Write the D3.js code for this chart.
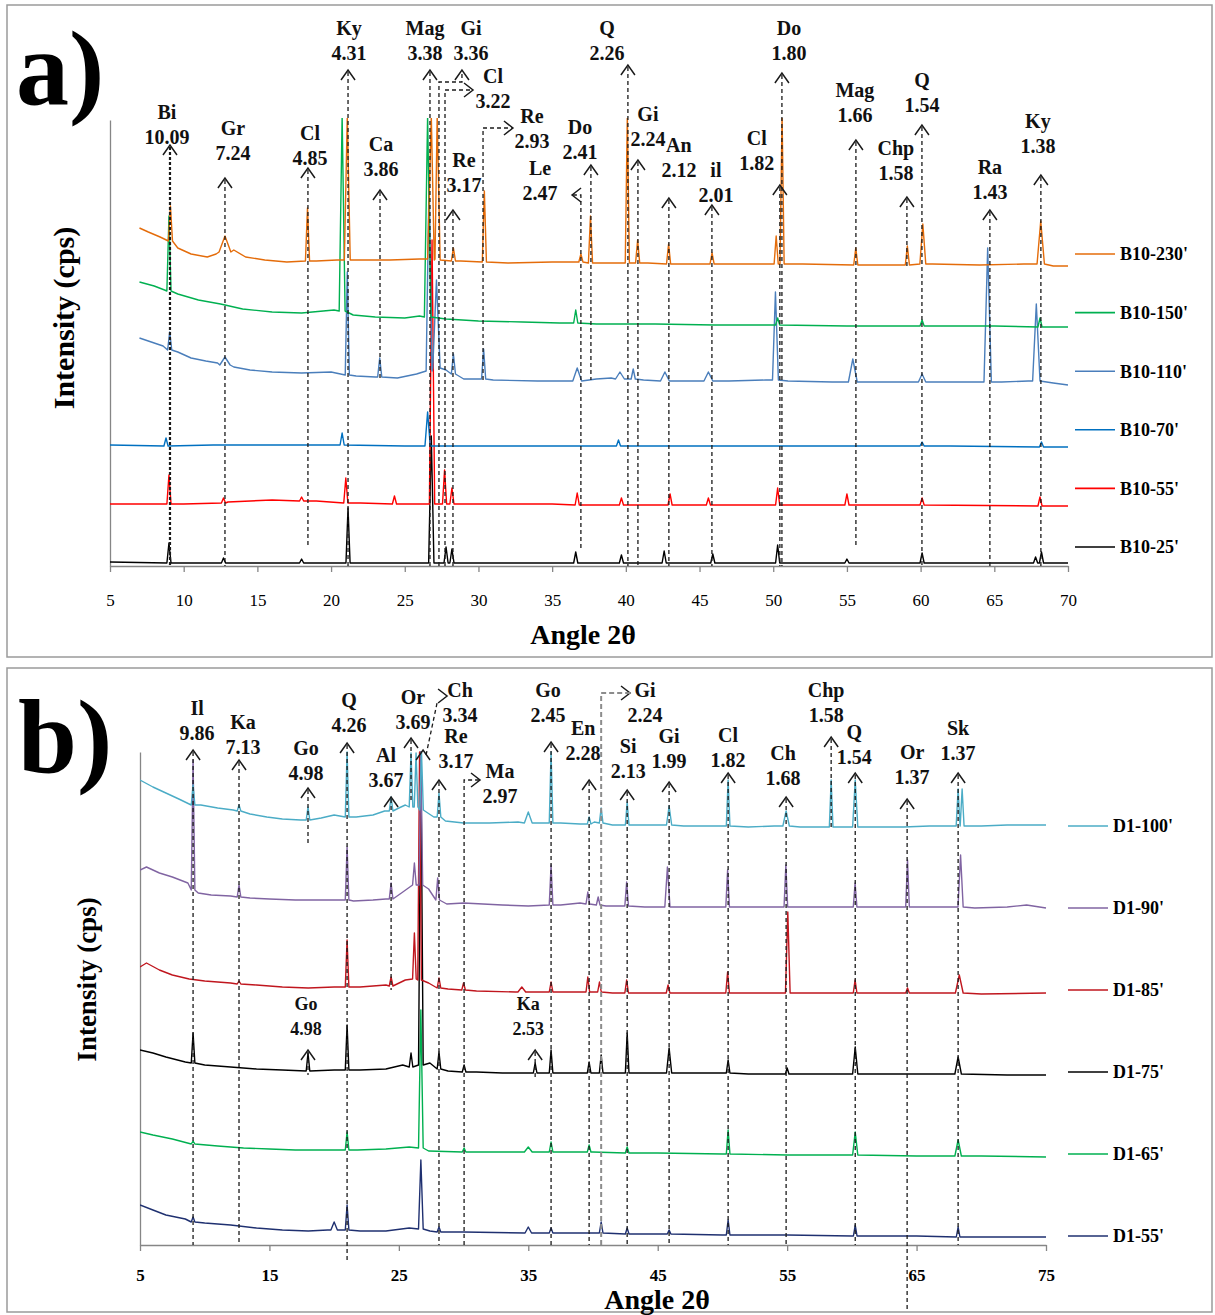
<!DOCTYPE html>
<html>
<head>
<meta charset="utf-8">
<script src="https://d3js.org/d3.v7.min.js"></script>
<style>
  body { margin: 0; background: #fff; }
  text { font-family: "Liberation Serif", "Times New Roman", serif; }
</style>
</head>
<body>
<svg id="chart" width="1215" height="1315"></svg>
<script>
(function() {

    // ---------- data ----------
    var seriesA = ["B10-230'", "B10-150'", "B10-110'", "B10-70'", "B10-55'", "B10-25'"];
    var seriesB = ["D1-100'", "D1-90'", "D1-85'", "D1-75'", "D1-65'", "D1-55'"];
    var ticksA = [5, 10, 15, 20, 25, 30, 35, 40, 45, 50, 55, 60, 65, 70];
    var ticksB = [5, 15, 25, 35, 45, 55, 65, 75];

    // background knots [2theta, intensity] and peaks [2theta, top, foot, halfwidth?]
    var b230Base = [[7.0,338],[7.6,334],[8.4,329],[9.6,318],[10.5,312],[11.6,309],[12.2,312],[13.4,316],[14.2,309],[15.5,306],[17,304],[19,305],[20.4,306],[22,306],[24,306],[26,307],[28.8,305],[32,303],[35,304],[38.5,303],[41.5,303],[44,302],[48,302],[52,302],[56,301],[60.8,302],[64,301],[67,302],[69,300],[70,300]];
    var b230Peaks = [[9.1,360,325],[12.8,330,314,0.4],[18.4,358,305],[21.1,450,306,0.2],[26.8,450,307,0.25],[27.2,450,306,0.2],[28.3,318,305],[30.4,375,304],[36.95,312,304],[37.6,350,303],[40.1,450,303],[40.8,326,303],[42.9,322,302],[45.85,313,302],[50.2,330,302],[50.6,450,302],[55.6,318,301],[59.1,320,301],[60.15,342,302,0.2],[68.15,345,302,0.25]];

    var b150Base = [[7.0,284],[8.0,280],[8.7,276],[9.6,272],[11,266],[12.5,262],[14,257],[16,254],[18,253],[20.2,256],[21.5,251],[23,249],[25,248],[26.0,250],[27.8,247],[30,245],[33,244],[35.5,243],[38,242],[42,242],[46,241],[50,241],[55,240],[60,240],[65,240],[70,239]];
    var b150Peaks = [[9.0,350,275],[20.75,450,255,0.2],[26.55,450,249,0.22],[36.6,256,243],[50.3,248,241],[60.1,246,240],[68.1,248,239]];

    var b110Base = [[7.0,228],[7.8,224],[8.6,220],[9.6,214],[10.5,208],[11.5,205],[12.3,203],[13.4,199],[14.5,196],[16,194],[18,193],[20,194],[21.7,190],[23,189],[24.5,188],[25.8,192],[27.8,196],[29,187],[31,186],[34,185],[36,185],[38,187],[39,188],[41.2,186],[44,185],[47,185],[49.5,186],[51,185],[54,184],[56.5,184],[60,184],[63.8,184],[65.5,184],[67.3,185],[69,183],[70,181]];
    var b110Peaks = [[9.05,234,216],[12.8,209,201,0.35],[21.1,294,191],[23.3,208,189],[26.65,388,195,0.2],[27.15,286,198,0.25],[28.3,212,192],[30.35,217,187],[36.7,198,185,0.3],[39.6,194,187,0.3],[40.5,197,187],[42.65,194,185,0.3],[45.6,194,185,0.3],[50.15,274,186,0.2],[55.4,207,184,0.3],[60.1,192,184,0.25],[64.55,318,184,0.25],[67.85,262,185,0.25]];

    var b70Base = [[5.0,121],[12,121],[18,121],[25,120],[32,120],[40,120],[48,120],[55,120],[62,120],[70,119]];
    var b70Peaks = [[8.8,128,120],[20.75,133,121],[26.55,154,120,0.18],[39.5,126,120],[60.1,124,120],[68.2,124,119]];

    var b55Base = [[5.0,62],[10,62],[13,64],[16,66],[19,65],[22,63],[25,62],[30,62],[35,62],[40,61],[50,61],[60,61],[70,60]];
    var b55Peaks = [[9.0,91,62],[12.7,68,63],[18.0,69,65],[21.0,88,63],[24.3,70,62],[26.85,326,62,0.18],[27.7,96,62],[28.2,78,62],[36.7,73,61],[39.7,68,61],[43.0,72,61],[45.6,68,61],[50.3,78,61],[55.0,72,61],[60.1,68,61],[68.1,69,60]];

    var b25Base = [[5.0,4],[12,3],[20,3],[30,3],[40,3],[50,3],[60,3],[70,3]];
    var b25Peaks = [[9.0,23,3],[12.7,8,3],[18.0,7,3],[21.15,58,3],[26.8,130,3,0.18],[27.8,19,3],[28.2,17,3],[36.6,14,3],[39.7,11,3],[42.6,15,3],[45.9,12,3],[50.3,21,3],[55.0,7,3],[60.1,13,3],[67.8,9,3],[68.2,14,3]];

    var d100Base = [[5.0,465],[6.0,458],[7.0,452],[8.0,446],[9.7,440],[11,437],[12.2,435],[13.5,431],[14.8,428],[16,426],[17.4,425],[19,427],[20,430],[21.7,428],[23,430],[23.9,434],[25.0,437],[25.5,440],[27.7,428],[28.6,424],[30,422],[32,422],[34.2,423],[36,422],[37.5,422],[39,421],[40.1,423],[41.5,420],[44,420],[47,419],[49,419],[52,418],[54,419],[56,418],[58,418],[62,418],[64,418],[66,419],[70,419],[72,420],[75,420]];
    var d100Peaks = [[9.1,460,440],[12.65,440,434],[17.98,438,425],[21.0,493,428],[24.4,448,434],[25.94,492,438],[26.33,492,438],[26.75,493,435],[28.1,452,428],[35.0,433,422,0.3],[36.76,493,422],[39.7,428,421],[40.63,437,422],[42.64,443,420],[45.88,439,420,0.2],[50.44,465,419],[54.92,434,419,0.25],[58.4,465,418],[60.26,465,418,0.2],[68.21,456,419,0.15],[68.52,456,419,0.15]];

    var d90Base = [[5.0,375],[5.5,378],[6.5,372],[7.5,368],[8.7,362],[9.5,352],[10.5,350],[12,349],[13.5,347],[15,346],[17,345],[19,345],[20.5,345],[21.5,344],[23,345],[24,346],[25.2,352],[27.3,356],[28.7,341],[30,342],[33,340],[35,339],[37.5,340],[39,342],[41,339],[44,338],[47,338],[50,338],[53,338],[57,338],[60,338],[63,338],[67,338],[69.5,337],[72,338],[73.5,340],[75,337]];
    var d90Peaks = [[9.1,485,355],[12.65,360,348],[21.0,398,345],[24.4,362,346],[26.2,382,360],[26.7,493,360],[28.0,367,345],[36.76,380,340],[39.6,353,341],[40.4,348,340],[42.6,363,339],[45.75,378,338,0.2],[50.4,375,338],[54.9,380,338],[60.25,362,338],[64.3,385,338],[68.4,390,338,0.2]];

    var d85Base = [[5.0,278],[5.5,282],[6.5,275],[7.5,270],[8.8,266],[10,264],[12,262],[14,260],[16,258],[18,257],[20,258],[22,258],[24,260],[25.5,265],[27.3,262],[28.8,256],[31,254],[34,253],[37.5,253],[39,253],[41.5,252],[44,252],[48,252],[52,252],[57,252],[62,252],[66,252],[70,251],[75,252]];
    var d85Peaks = [[12.65,264,261],[21.0,305,258],[24.4,268,259],[26.2,312,266],[26.6,493,265],[28.1,267,257],[30.0,262,255],[34.5,258,253,0.3],[36.76,263,253],[39.6,268,253],[40.5,263,253],[42.6,265,252],[45.8,260,252],[50.4,273,252],[55.05,333,252,0.18],[60.25,265,252],[64.3,257,252],[68.3,270,252,0.3]];

    var d75Base = [[5.0,195],[6,192],[7,188],[8.5,183],[10,180],[12,178],[14,176],[16,175],[18,174],[20,175],[22,175],[24,176],[25.3,180],[27.4,182],[28.8,174],[31,173],[33,172],[35,172],[38,172],[41,172],[44,172],[48,172],[52,171],[56,171],[60,171],[64,171],[68,171],[72,170],[75,170]];
    var d75Peaks = [[9.1,212,182],[17.98,192,174],[21.0,220,175],[25.94,192,178],[26.7,493,180,0.18],[28.1,193,176],[30.04,180,173],[35.53,182,172],[36.76,195,172],[39.7,183,172],[40.63,190,172],[42.64,212,172],[45.88,197,172,0.2],[50.44,185,172],[55.0,177,171],[60.26,198,171,0.2],[68.21,188,171,0.25]];

    var d65Base = [[5.0,113],[6,110],[7.5,106],[9,102],[11,99],[13,97],[15,96],[17,95],[19,95],[21.8,95],[24,96],[25.8,98],[27.3,94],[30,93],[35,93],[40,93],[45,92],[50,91],[55,90],[60,90],[65,89],[70,89],[75,88]];
    var d65Peaks = [[9.1,104,101],[21.0,113,95],[26.7,235,97,0.18],[30.04,97,93],[35.0,98,93,0.3],[36.76,103,93],[39.7,100,93],[42.64,98,92],[50.44,115,91],[60.26,113,90,0.2],[68.21,105,89,0.25]];

    var d55Base = [[5.0,40],[6,35],[7,30],[8.5,26],[10,22],[12,20],[14,17],[16,15],[18,14],[19.5,15],[22,14],[24,14],[25.8,17],[27.4,14],[30,13],[35,12],[40,12],[45,11],[50,10],[55,10],[60,9],[65,9],[70,8],[75,8]];
    var d55Peaks = [[9.1,28,23],[20.0,23,15,0.25],[21.0,40,15],[26.7,85,16,0.18],[28.1,18,13],[35.0,18,12,0.25],[36.76,17,12],[40.63,23,12],[42.64,17,11],[45.88,15,11],[50.44,25,10],[60.26,20,9],[68.21,18,8]];

    // mineral labels: [mineral, d-spacing, 2theta]
    var annoA = [["Bi","10.09",9.07],["Gr","7.24",12.80],["Cl","4.85",18.43],["Ky","4.31",21.15],["Ca","3.86",23.32],
                 ["Mag","3.38",26.71],["Gi","3.36",27.32],["Cl","3.22",27.73],["Re","3.17",28.27],["Re","2.93",30.31],
                 ["Le","2.47",36.95],["Do","2.41",37.63],["Q","2.26",40.14],["Gi","2.24",40.82],["An","2.12",42.92],
                 ["il","2.01",45.84],["Cl","1.82",50.45],["Do","1.80",50.59],["Mag","1.66",55.61],["Chp","1.58",59.07],
                 ["Q","1.54",60.09],["Ra","1.43",64.70],["Ky","1.38",68.16]];
    var annoB = [["Il","9.86",9.10],["Ka","7.13",12.65],["Go","4.98",17.98],["Q","4.26",21.0],["Al","3.67",24.4],
                 ["Or","3.69",25.94],["Ch","3.34",26.87],["Re","3.17",28.1],["Ma","2.97",30.04],["Go","2.45",36.76],
                 ["En","2.28",39.7],["Gi","2.24",40.63],["Si","2.13",42.64],["Gi","1.99",45.88],["Cl","1.82",50.44],
                 ["Ch","1.68",54.92],["Chp","1.58",58.40],["Q","1.54",60.26],["Or","1.37",64.27],["Sk","1.37",68.21],
                 ["Go","4.98",17.98],["Ka","2.53",35.53]];

    // ---------- layout / style ----------
    var HW = 0.14;
    var COLORS_A = ["#E46C0A", "#00B050", "#4A7EBB", "#0070C0", "#FF0000", "#000000"];
    var COLORS_B = ["#4BACC6", "#8064A2", "#C0161E", "#000000", "#00B050", "#1F3070"];

    // label placement (tip/end/bend in intensity units, dx/dy in px)
    var layA = [
        {tip:421, end:0, dx:-3, dy:-33, w:2.2}, {tip:388, end:0, dx:8, dy:-50}, {tip:398, end:18, dx:2, dy:-35},
        {tip:496, end:0, dx:1, dy:-42}, {tip:376, end:186, dx:1, dy:-46}, {tip:496, end:0, dx:-5, dy:-42},
        {k:"bendUp", bend:484, to:28.88, tip:496, end:0, dx:9, dy:-42},
        {k:"right", bend:476, to:29.63, end:0, dx:20, dy:-14},
        {tip:356, end:0, dx:11, dy:-50},
        {k:"right", bend:438, to:32.34, end:186, dx:19, dy:-12},
        {k:"left", bend:371, to:36.35, end:18, dx:-32, dy:-27},
        {tip:401, end:186, dx:-11, dy:-38}, {tip:501, end:0, dx:-21, dy:-37}, {tip:406, end:0, dx:10, dy:-46},
        {tip:368, end:0, dx:10, dy:-53}, {tip:361, end:0, dx:4, dy:-35}, {tip:381, end:0, dx:-23, dy:-47},
        {tip:493, end:0, dx:7, dy:-45}, {tip:426, end:18, dx:-1, dy:-50}, {tip:369, end:298, dx:-11, dy:-49},
        {tip:441, end:0, dx:0, dy:-45}, {tip:356, end:0, dx:0, dy:-43}, {tip:391, end:0, dx:-3, dy:-54}
    ];
    var layB = [
        {tip:495, end:0, dx:4, dy:-42}, {tip:485, end:0, dx:4, dy:-38}, {tip:457, end:402, dx:-2, dy:-40},
        {tip:502, end:-17, dx:2, dy:-43}, {tip:448, end:255, dx:-5, dy:-42}, {tip:507, end:442, dx:2, dy:-41},
        {k:"diag", tip:495, dx:37, dy:-60},
        {tip:465, end:0, dx:17, dy:-44},
        {k:"right", bend:465, to:31.27, end:0, dx:20, dy:-9},
        {tip:503, end:0, dx:-3, dy:-52}, {tip:465, end:0, dx:-6, dy:-52},
        {k:"right", bend:552, to:42.86, end:0, dx:15, dy:-3, grey:true},
        {tip:455, end:0, dx:1, dy:-44}, {tip:463, end:0, dx:0, dy:-46}, {tip:472, end:0, dx:0, dy:-38},
        {tip:448, end:0, dx:-3, dy:-44}, {tip:508, end:415, dx:-5, dy:-47}, {tip:472, end:0, dx:-1, dy:-41},
        {tip:446, end:-67, dx:5, dy:-47}, {tip:472, end:0, dx:0, dy:-45},
        {tip:195, end:170, dx:-2, dy:-46, fs:18}, {tip:195, end:167, dx:-7, dy:-46, fs:18}
    ];

    var svg = d3.select("#chart");

    // merge background knots and peak triangles into one sorted trace
    function pattern(base, peaks) {
        var pts = base.filter(function(b) {
            return !peaks.some(function(p) { return Math.abs(b[0] - p[0]) < (p[3] || HW); });
        }).map(function(b) { return [b[0], b[1]]; });
        peaks.forEach(function(p) {
            var w = p[3] || HW;
            pts.push([p[0] - w, p[2]], [p[0], p[1]], [p[0] + w, p[2]]);
        });
        pts.sort(function(a, b) { return a[0] - b[0]; });
        return pts;
    }

    function chevron(g, x, y, dir) {
        var d;
        if (dir === "up") d = "M" + (x - 7) + "," + (y + 10) + "L" + x + "," + y + "L" + (x + 7) + "," + (y + 10);
        else if (dir === "right") d = "M" + (x - 9) + "," + (y - 7) + "L" + x + "," + y + "L" + (x - 9) + "," + (y + 7);
        else d = "M" + (x + 9) + "," + (y - 7) + "L" + x + "," + y + "L" + (x + 9) + "," + (y + 7);
        g.append("path").attr("d", d).attr("fill", "none").attr("stroke", "#1a1a1a").attr("stroke-width", 1.5);
    }

    function drawPanel(p) {
        var g = svg.append("g");
        var x0 = p.x.range()[0], x1 = p.x.range()[1];
        var yb = p.y.range()[0], yt = p.y.range()[1];

        g.append("rect")
            .attr("x", p.frame[0]).attr("y", p.frame[1])
            .attr("width", p.frame[2]).attr("height", p.frame[3])
            .attr("fill", "none").attr("stroke", "#9a9a9a").attr("stroke-width", 1.5);

        svg.append("clipPath").attr("id", "clip" + p.id)
            .append("rect").attr("x", x0).attr("y", yt - 2)
            .attr("width", x1 - x0 + 2).attr("height", yb - yt + 2);

        // axes
        var xa = g.append("g").attr("transform", "translate(0," + yb + ")")
            .call(d3.axisBottom(p.x).tickValues(p.ticks).tickSize(6).tickSizeOuter(0).tickFormat(d3.format("d")));
        xa.select(".domain").attr("stroke", "#868686").attr("stroke-width", 1.3);
        xa.selectAll(".tick line").attr("stroke", "#868686").attr("stroke-width", 1.3);
        xa.selectAll(".tick text")
            .attr("y", p.tickY).attr("dy", "0.32em")
            .attr("font-family", p.tickFont)
            .attr("font-size", 17).attr("font-weight", p.tickBold ? "bold" : "normal").attr("fill", "#000");

        var ya = g.append("g").attr("transform", "translate(" + x0 + ",0)")
            .call(d3.axisLeft(p.y).tickValues([]).tickSizeOuter(0));
        ya.select(".domain").attr("stroke", "#868686").attr("stroke-width", 1.3);

        // traces, last legend entry first
        var line = d3.line().x(function(d) { return p.x(d[0]); }).y(function(d) { return p.y(d[1]); });
        var traces = g.append("g").attr("clip-path", "url(#clip" + p.id + ")");
        d3.range(p.names.length).reverse().forEach(function(i) {
            traces.append("path")
                .attr("d", line(pattern(p.base[i], p.peaks[i])))
                .attr("fill", "none").attr("stroke", p.colors[i])
                .attr("stroke-width", 1.4).attr("stroke-linejoin", "round");
        });

        // legend
        var lg = g.selectAll(".lg").data(p.names).enter().append("g")
            .attr("transform", function(d, i) { return "translate(" + p.legX + "," + (p.legY + i * p.legStep) + ")"; });
        lg.append("line").attr("x1", 0).attr("x2", 40).attr("y1", 0).attr("y2", 0)
            .attr("stroke", function(d, i) { return p.colors[i]; }).attr("stroke-width", 1.6);
        lg.append("text").attr("x", 45).attr("dy", "0.35em")
            .attr("font-size", 18).attr("font-weight", "bold").text(function(d) { return d; });

        // mineral annotations
        var ag = g.append("g");
        p.anno.forEach(function(a, i) {
            var L = p.lay[i], k = L.k || "up";
            var xp = p.x(a[2]);
            var col = L.grey ? "#8c8c8c" : "#1a1a1a";
            var dash = L.grey ? "5,3" : (L.w ? "3,2" : "4,3");
            var hx, hy, d;
            if (k === "up") {
                hx = xp; hy = p.y(L.tip);
                d = "M" + xp + "," + (hy + 2) + "V" + p.y(L.end);
                chevron(ag, xp, hy, "up");
            } else if (k === "right" || k === "left") {
                hx = p.x(L.to); hy = p.y(L.bend);
                d = "M" + xp + "," + p.y(L.end) + "V" + hy + "H" + hx;
                chevron(ag, hx, hy, k);
            } else if (k === "bendUp") {
                hx = p.x(L.to); hy = p.y(L.tip);
                d = "M" + xp + "," + p.y(L.end) + "V" + p.y(L.bend) + "H" + hx + "V" + (hy + 2);
                chevron(ag, hx, hy, "up");
            } else {
                hx = xp; hy = p.y(L.tip);
                d = "M" + (xp + 3) + "," + (hy + 5) + "L" + (xp + 14) + "," + (hy - 47);
                chevron(ag, xp, hy, "up");
                chevron(ag, xp + 24, hy - 54, "right");
            }
            ag.append("path").attr("d", d).attr("fill", "none")
                .attr("stroke", col).attr("stroke-width", L.grey ? 2 : (L.w || 1.3))
                .attr("stroke-dasharray", dash);
            [a[0], a[1]].forEach(function(t, j) {
                ag.append("text")
                    .attr("x", hx + L.dx).attr("y", hy + L.dy + j * 25).attr("dy", "0.35em")
                    .attr("text-anchor", "middle").attr("font-size", L.fs || 20)
                    .attr("font-weight", "bold").attr("fill", "#111").text(t);
            });
        });

        // titles
        g.append("text").attr("x", (x0 + x1) / 2 + p.titleDx).attr("y", p.titleY)
            .attr("text-anchor", "middle").attr("font-size", 28).attr("font-weight", "bold")
            .text("Angle 2\u03b8");
        g.append("text")
            .attr("transform", "translate(" + p.yTitleX + "," + ((yb + yt) / 2 + p.yTitleDy) + ") rotate(-90)")
            .attr("text-anchor", "middle").attr("font-size", p.yTitleSize).attr("font-weight", "bold")
            .text("Intensity (cps)");
        g.append("text").attr("x", p.tag[0]).attr("y", p.tag[1])
            .attr("font-size", 106).attr("font-weight", "bold").text(p.tagText);
    }

    drawPanel({
        id: "a", names: seriesA, colors: COLORS_A, ticks: ticksA, tickY: 35, tickBold: false,
        tickFont: "Liberation Sans Narrow, Liberation Sans, sans-serif",
        base: [b230Base, b150Base, b110Base, b70Base, b55Base, b25Base],
        peaks: [b230Peaks, b150Peaks, b110Peaks, b70Peaks, b55Peaks, b25Peaks],
        x: d3.scaleLinear().domain([5, 70]).range([110, 1068]),
        y: d3.scaleLinear().domain([0, 446]).range([566, 120]),
        anno: annoA, lay: layA,
        frame: [7, 5, 1205, 652],
        legX: 1075, legY: 254, legStep: 58.6,
        titleDx: -6, titleY: 644, yTitleX: 74, yTitleDy: -25, yTitleSize: 30,
        tag: [16, 104], tagText: "a)"
    });

    drawPanel({
        id: "b", names: seriesB, colors: COLORS_B, ticks: ticksB, tickY: 31, tickBold: true,
        tickFont: "Liberation Serif, serif",
        base: [d100Base, d90Base, d85Base, d75Base, d65Base, d55Base],
        peaks: [d100Peaks, d90Peaks, d85Peaks, d75Peaks, d65Peaks, d55Peaks],
        x: d3.scaleLinear().domain([5, 75]).range([140, 1046]),
        y: d3.scaleLinear().domain([0, 493]).range([1245, 752]),
        anno: annoB, lay: layB,
        frame: [7, 668, 1205, 644],
        legX: 1068, legY: 826, legStep: 82,
        titleDx: 64, titleY: 1309, yTitleX: 96, yTitleDy: -19, yTitleSize: 27,
        tag: [18, 773], tagText: "b)"
    });

})();
</script>
</body>
</html>
